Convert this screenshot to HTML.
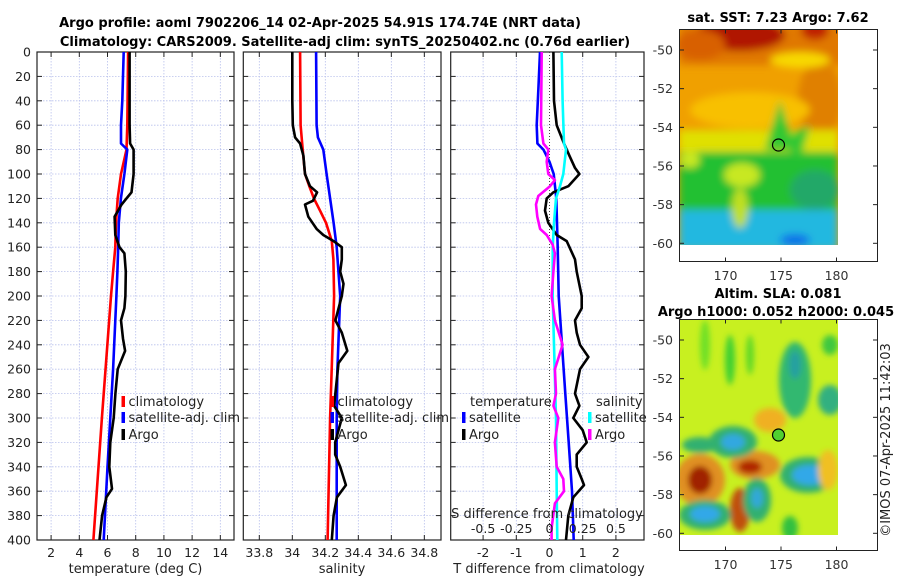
<!DOCTYPE html>
<html><head><meta charset="utf-8">
<style>
body{margin:0;background:#fff;}
svg{display:block;font-family:"DejaVu Sans","Liberation Sans",sans-serif;}
</style></head>
<body>
<svg id="fig" width="900" height="580" viewBox="0 0 900 580" xmlns="http://www.w3.org/2000/svg">
<defs>
<filter id="bl" x="-50%" y="-50%" width="200%" height="200%"><feGaussianBlur stdDeviation="4"/></filter>
<filter id="bl2" x="-50%" y="-50%" width="200%" height="200%"><feGaussianBlur stdDeviation="3"/></filter>
<clipPath id="c1"><rect x="679" y="29" width="159" height="216"/></clipPath>
<clipPath id="c2"><rect x="679" y="319" width="159" height="216"/></clipPath>
</defs>
<text x="320" y="27" font-size="13" font-weight="bold" text-anchor="middle">Argo profile: aoml 7902206_14 02-Apr-2025 54.91S 174.74E (NRT data)</text>
<text x="345" y="46" font-size="13" font-weight="bold" text-anchor="middle">Climatology: CARS2009. Satellite-adj clim: synTS_20250402.nc (0.76d earlier)</text>

<g>
<text x="778" y="22" font-size="13" font-weight="bold" text-anchor="middle">sat. SST: 7.23 Argo: 7.62</text>
<g clip-path="url(#c1)">
<rect x="679" y="29" width="159" height="216" fill="#f0a000"/>
<g filter="url(#bl)">
<rect x="679" y="25" width="165" height="40" fill="#e07800"/>
<ellipse cx="740" cy="35" rx="45" ry="16" fill="#b01800"/>
<ellipse cx="700" cy="45" rx="25" ry="15" fill="#d86000"/>
<ellipse cx="815" cy="30" rx="14" ry="10" fill="#c02000"/>
<ellipse cx="820" cy="100" rx="22" ry="40" fill="#e08000"/>
<ellipse cx="750" cy="110" rx="60" ry="18" fill="#f8c000"/>
<ellipse cx="800" cy="60" rx="30" ry="8" fill="#f8d800"/>
<rect x="679" y="130" width="159" height="22" fill="#e0e000"/>
<rect x="679" y="152" width="159" height="58" fill="#20c030"/>
<polygon points="780,100 765,150 795,150" fill="#30c830"/>
<polygon points="780,140 810,125 800,160" fill="#30c830"/>
<ellipse cx="742" cy="175" rx="18" ry="12" fill="#c8e820"/>
<ellipse cx="690" cy="160" rx="10" ry="8" fill="#c8e820"/>
<ellipse cx="815" cy="190" rx="25" ry="20" fill="#20a868"/>
<rect x="679" y="210" width="159" height="40" fill="#20b8e0"/>
<ellipse cx="740" cy="208" rx="8" ry="20" fill="#c0e020"/>
<ellipse cx="795" cy="240" rx="15" ry="6" fill="#1070e8"/>
</g>
</g>
<circle cx="778.5" cy="145" r="6" fill="none" stroke="#000" stroke-width="1.2"/>
<rect x="679.5" y="29.5" width="198" height="232" fill="none" stroke="#222" stroke-width="1"/>
<g id="map1ticks"></g>
</g>

<g>
<text x="778" y="298" font-size="13" font-weight="bold" text-anchor="middle">Altim. SLA: 0.081</text>
<text x="776" y="316" font-size="13" font-weight="bold" text-anchor="middle">Argo h1000: 0.052 h2000: 0.045</text>
<g clip-path="url(#c2)">
<rect x="679" y="319" width="159" height="216" fill="#c8f020"/>
<g filter="url(#bl2)">
<ellipse cx="705" cy="345" rx="5" ry="25" fill="#70e028"/>
<ellipse cx="730" cy="360" rx="5" ry="25" fill="#40d030"/>
<ellipse cx="750" cy="355" rx="4" ry="20" fill="#60d828"/>
<ellipse cx="795" cy="380" rx="16" ry="38" fill="#30b870"/>
<ellipse cx="795" cy="365" rx="6" ry="14" fill="#28a0a0"/>
<ellipse cx="830" cy="400" rx="12" ry="15" fill="#30b080"/>
<ellipse cx="830" cy="345" rx="8" ry="10" fill="#40c840"/>
<ellipse cx="770" cy="420" rx="16" ry="12" fill="#f0b020"/>
<ellipse cx="700" cy="480" rx="25" ry="26" fill="#e09020"/>
<ellipse cx="700" cy="480" rx="12" ry="14" fill="#a02000"/>
<ellipse cx="755" cy="465" rx="25" ry="14" fill="#e09020"/>
<ellipse cx="750" cy="467" rx="12" ry="7" fill="#b02800"/>
<ellipse cx="740" cy="510" rx="10" ry="22" fill="#c05010"/>
<ellipse cx="733" cy="442" rx="24" ry="16" fill="#30b070"/>
<ellipse cx="733" cy="442" rx="12" ry="8" fill="#30a8e0"/>
<ellipse cx="700" cy="445" rx="18" ry="8" fill="#30b070"/>
<ellipse cx="808" cy="475" rx="28" ry="18" fill="#30b070"/>
<ellipse cx="810" cy="475" rx="18" ry="10" fill="#30a8e8"/>
<ellipse cx="757" cy="500" rx="14" ry="22" fill="#30b070"/>
<ellipse cx="757" cy="498" rx="6" ry="10" fill="#30a8d8"/>
<ellipse cx="705" cy="515" rx="26" ry="15" fill="#30b070"/>
<ellipse cx="705" cy="514" rx="15" ry="8" fill="#30a8e8"/>
<ellipse cx="790" cy="528" rx="8" ry="12" fill="#30c040"/>
<ellipse cx="828" cy="470" rx="10" ry="20" fill="#f0c020"/>
</g>
</g>
<circle cx="778.5" cy="435" r="6" fill="#50d030" stroke="#000" stroke-width="1.2"/>
<rect x="679.5" y="319.5" width="198" height="231" fill="none" stroke="#222" stroke-width="1"/>
<g id="map2ticks"></g>
</g>
<text transform="translate(890,440) rotate(-90)" font-size="13" text-anchor="middle" fill="#222">©IMOS 07-Apr-2025 11:42:03</text>

<g id="p1"></g>
<g id="p2"></g>
<g id="p3"></g>
<g id="ylab"></g>
</svg>
<script>
// ---- data ----
const depthTicks = [0,20,40,60,80,100,120,140,160,180,200,220,240,260,280,300,320,340,360,380,400];
const tempTicks = [2,4,6,8,10,12,14];
const salTicks = [33.8,34,34.2,34.4,34.6,34.8];
const tdiffTicks = [-2,-1,0,1,2];
const sdiffTickLabels = ["-0.5","-0.25","0","0.25","0.5"];
const sdiffTicks = [-0.5,-0.25,0,0.25,0.5];

const tClimD = [0,60,80,100,120,140,160,180,200,300,400];
const tClimV = [7.46,7.4,7.35,6.96,6.72,6.6,6.55,6.4,6.25,5.6,5.0];
const tSatD = [0,20,40,60,75,80,100,120,140,160,180,200,260,300,340,400];
const tSatV = [7.15,7.1,7.05,6.96,6.96,7.4,7.2,6.95,6.8,6.76,6.7,6.63,6.4,6.2,6.0,5.73];
const tArgoD = [0,60,75,80,100,115,125,135,150,160,165,180,200,210,220,235,245,260,280,300,320,340,358,365,380,400];
const tArgoV = [7.57,7.57,7.6,7.85,7.85,7.7,7.0,6.5,6.55,6.85,7.2,7.3,7.27,7.2,6.96,7.1,7.25,6.72,6.56,6.44,6.2,6.13,6.32,5.92,5.62,5.43];

const sClimD = [0,60,80,100,110,120,130,140,155,170,200,300,400];
const sClimV = [34.047,34.05,34.063,34.077,34.103,34.131,34.168,34.204,34.239,34.249,34.253,34.229,34.214];
const sSatD = [0,60,70,80,100,120,140,160,200,260,300,400];
const sSatV = [34.144,34.147,34.155,34.188,34.208,34.229,34.25,34.269,34.29,34.273,34.269,34.269];
const sArgoD = [0,40,60,70,75,85,100,110,115,122,125,135,145,150,155,160,170,180,190,200,220,230,245,255,290,300,320,330,340,355,365,380,400];
const sArgoV = [34.0,34.0,34.003,34.017,34.047,34.067,34.077,34.107,34.15,34.125,34.077,34.097,34.147,34.188,34.25,34.3,34.3,34.29,34.31,34.3,34.261,34.3,34.333,34.28,34.253,34.3,34.26,34.26,34.29,34.325,34.27,34.25,34.239];

const dTsatD = [0,30,60,75,80,90,100,120,160,200,240,280,320,360,400];
const dTsatV = [-0.286,-0.336,-0.386,-0.366,-0.185,0.0,0.126,0.206,0.246,0.276,0.377,0.477,0.577,0.678,0.728];
const dTargoD = [0,40,60,75,85,95,100,110,115,120,130,140,150,155,170,180,200,210,220,230,240,250,260,280,290,300,310,320,330,340,350,355,365,380,400];
const dTargoV = [0.116,0.136,0.216,0.437,0.598,0.768,0.899,0.567,0.116,-0.085,-0.136,-0.035,0.216,0.517,0.768,0.819,0.97,0.97,0.768,0.819,0.919,1.17,0.919,0.768,0.899,0.718,1.0,1.12,0.819,0.819,0.97,1.04,0.718,0.567,0.497];
const dSsatD = [0,40,75,80,100,110,120,140,160,200,240,300,360,400];
const dSsatV = [0.092,0.099,0.109,0.124,0.104,0.079,0.049,0.034,0.024,0.024,0.034,0.049,0.054,0.059];
const dSargoD = [0,60,75,80,90,100,105,110,118,125,135,145,150,158,165,180,200,220,240,260,280,290,300,320,340,350,360,370,390,400];
const dSargoV = [-0.059,-0.064,-0.046,-0.009,-0.021,-0.009,0.041,0.004,-0.084,-0.102,-0.092,-0.071,-0.021,0.024,0.041,0.029,0.016,0.041,0.099,0.041,0.049,0.029,0.066,0.041,0.054,0.104,0.109,0.041,0.016,0.016];

const mapLatTicks = [-50,-52,-54,-56,-58,-60];
const mapLonTicks = [170,175,180];

// ---- helpers ----
const NS = "http://www.w3.org/2000/svg";
function mk(tag, attrs, parent){ const e=document.createElementNS(NS,tag); for(const k in attrs) e.setAttribute(k,attrs[k]); parent.appendChild(e); return e; }
const TOP=52, BOT=540;
function yD(d){ return TOP + d*(BOT-TOP)/400; }
function scaleX(x0,x1,v0,v1){ return v => x0 + (v-v0)*(x1-x0)/(v1-v0); }

const P = [
  {id:'p1', x0:37, x1:234, xs:scaleX(37,234,1.0,14.97)},
  {id:'p2', x0:243.3, x1:441, xs:scaleX(243.3,441,33.703,34.901)},
  {id:'p3', x0:450.7, x1:644, xs:scaleX(450.7,644,-2.976,2.846)}
];

function panelFrame(p, gridVals){
  const g = document.getElementById(p.id);
  gridVals.forEach(v=>{
    const x=p.xs(v);
    const l=mk('line',{x1:x,x2:x,y1:TOP,y2:BOT,stroke:'#b8c0ec','stroke-width':0.8,'stroke-dasharray':'1.5,1.5'},g);
    
    
    mk('line',{x1:x,x2:x,y1:TOP,y2:TOP+5,stroke:'#222','stroke-width':1},g);
    mk('line',{x1:x,x2:x,y1:BOT-5,y2:BOT,stroke:'#222','stroke-width':1},g);
  });
  depthTicks.forEach(d=>{
    const y=yD(d);
    if(d>0 && d<400){
      const l=mk('line',{x1:p.x0,x2:p.x1,y1:y,y2:y,stroke:'#b8c0ec','stroke-width':0.8,'stroke-dasharray':'1.5,1.5'},g);
      
      
    }
    mk('line',{x1:p.x0,x2:p.x0+5,y1:y,y2:y,stroke:'#222','stroke-width':1},g);
    mk('line',{x1:p.x1-5,x2:p.x1,y1:y,y2:y,stroke:'#222','stroke-width':1},g);
  });
  mk('rect',{x:p.x0,y:TOP,width:p.x1-p.x0,height:BOT-TOP,fill:'none',stroke:'#222','stroke-width':1.2},g);
}
function series(p, D, V, color, name, xs){
  const g=document.getElementById(p.id);
  const f = xs || p.xs;
  const pts = D.map((d,i)=>f(V[i]).toFixed(1)+','+yD(d).toFixed(1)).join(' ');
  const pl=mk('polyline',{points:pts,fill:'none',stroke:color,'stroke-width':2.6,'stroke-linejoin':'round'},g);
  
  
}
function txt(g,x,y,s,attrs){ const t=mk('text',Object.assign({x:x,y:y,'font-size':12.5,fill:'#222'},attrs||{}),g); t.textContent=s; return t; }
function legend(g,x,y,color,label,name){
  mk('rect',{x:x,y:y-10,width:3.5,height:11,fill:color},g);
  const t=txt(g,x+7,y,label,{'font-size':13});
  
  
}

// depth labels
const yl=document.getElementById('ylab');
depthTicks.forEach(d=>{ const t=txt(yl,31,yD(d)+4.5,String(d),{'text-anchor':'end'});
  
   });

// panel 1
panelFrame(P[0], tempTicks);
series(P[0], tClimD, tClimV, '#f00', 'temp-climatology-line');
series(P[0], tSatD, tSatV, '#00f', 'temp-satellite-line');
series(P[0], tArgoD, tArgoV, '#000', 'temp-argo-line');
(function(){ const g=document.getElementById('p1');
  tempTicks.forEach(v=>{ const t=txt(g,P[0].xs(v),557,String(v),{'text-anchor':'middle'});
      });
  const a=txt(g,135.5,573,'temperature (deg C)',{'text-anchor':'middle','font-size':13});
   
  legend(g,121.5,406,'#f00','climatology','legend-climatology');
  legend(g,121.5,422,'#00f','satellite-adj. clim','legend-satellite-adj');
  legend(g,121.5,439,'#000','Argo','legend-argo');
})();

// panel 2
panelFrame(P[1], salTicks);
series(P[1], sClimD, sClimV, '#f00', 'sal-climatology-line');
series(P[1], sSatD, sSatV, '#00f', 'sal-satellite-line');
series(P[1], sArgoD, sArgoV, '#000', 'sal-argo-line');
(function(){ const g=document.getElementById('p2');
  salTicks.forEach(v=>{ const t=txt(g,P[1].xs(v),557,String(v),{'text-anchor':'middle'});
      });
  const a=txt(g,342,573,'salinity',{'text-anchor':'middle','font-size':13});
   
  legend(g,330.5,406,'#f00','climatology','legend-climatology');
  legend(g,330.5,422,'#00f','satellite-adj. clim','legend-satellite-adj');
  legend(g,330.5,439,'#000','Argo','legend-argo');
})();

// panel 3
panelFrame(P[2], [-2,-1,1,2]);
(function(){ const g=document.getElementById('p3'); const x=P[2].xs(0);
  mk('line',{x1:x,x2:x,y1:TOP,y2:BOT,stroke:'#444','stroke-width':1,'stroke-dasharray':'1,2'},g); })();
const sdX = scaleX(549.5,549.5+132.8,0,1);
series(P[2], dTsatD, dTsatV, '#00f', 'tdiff-satellite-line');
series(P[2], dTargoD, dTargoV, '#000', 'tdiff-argo-line');
series(P[2], dSsatD, dSsatV, '#0ff', 'sdiff-satellite-line', sdX);
series(P[2], dSargoD, dSargoV, '#f0f', 'sdiff-argo-line', sdX);
(function(){ const g=document.getElementById('p3');
  tdiffTicks.forEach(v=>{ const t=txt(g,P[2].xs(v),557,String(v),{'text-anchor':'middle'});
      });
  const a=txt(g,549,573,'T difference from climatology',{'text-anchor':'middle','font-size':13});
   
  const b=txt(g,547,518,'S difference from climatology',{'text-anchor':'middle','font-size':13});
   
  sdiffTicks.forEach((v,i)=>{ const t=txt(g,sdX(v),533,sdiffTickLabels[i],{'text-anchor':'middle'});
      });
  const h1=txt(g,470,406,'temperature',{'font-size':13});  
  const h2=txt(g,596,406,'salinity',{'font-size':13});  
  legend(g,462,422,'#00f','satellite','legend-t-satellite');
  legend(g,462,439,'#000','Argo','legend-t-argo');
  legend(g,588,422,'#0ff','satellite','legend-s-satellite');
  legend(g,588,439,'#f0f','Argo','legend-s-argo');
})();

// map ticks
function mapTicks(id, latY50, latY60, top, bot, labY){
  const g=document.getElementById(id);
  const ly = v => latY50 + (v+50)*(latY60-latY50)/(-10);
  const lx = v => 781 + (v-175)*11.1;
  mapLatTicks.forEach(v=>{ const y=ly(v);
    mk('line',{x1:679.5,x2:684,y1:y,y2:y,stroke:'#222'},g);
    mk('line',{x1:873,x2:877.5,y1:y,y2:y,stroke:'#222'},g);
    const t=txt(g,673,y+4.5,String(v),{'text-anchor':'end','fill':'#333'});
      });
  mapLonTicks.forEach(v=>{ const x=lx(v);
    mk('line',{x1:x,x2:x,y1:top,y2:top+4,stroke:'#222'},g);
    mk('line',{x1:x,x2:x,y1:bot-4,y2:bot,stroke:'#222'},g);
    const t=txt(g,x,labY,String(v),{'text-anchor':'middle','fill':'#333'});
      });
}
mapTicks('map1ticks',50,243.3,29.5,261.5,280);
mapTicks('map2ticks',340,533.3,319.5,550.5,569);
</script>
</body></html>
